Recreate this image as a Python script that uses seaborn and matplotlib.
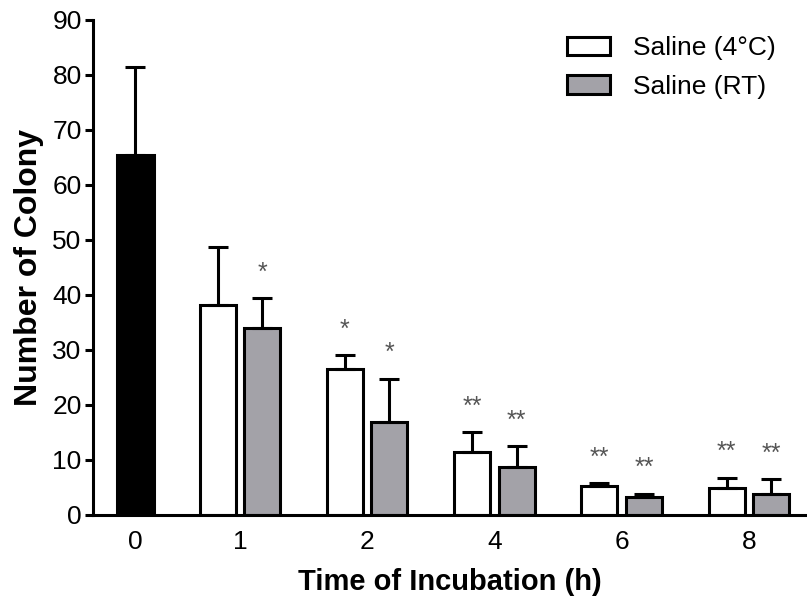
import pandas as pd
import matplotlib
matplotlib.use('Agg')
import matplotlib.pyplot as plt
import seaborn as sns

# data
times = ['0', '1', '2', '4', '6', '8']
control_mean = [65.5]
control_sd = [15.9]
cold_mean = [38.2, 26.6, 11.5, 5.2, 4.9]
cold_sd = [10.6, 2.4, 3.6, 0.6, 1.9]
rt_mean = [33.9, 16.9, 8.8, 3.2, 3.9]
rt_sd = [5.5, 7.9, 3.8, 0.7, 2.7]
cold_stars = ['', '*', '**', '**', '**']
rt_stars = ['*', '*', '**', '**', '**']
groups = ['Saline (4\u00b0C)', 'Saline (RT)']

df0 = pd.DataFrame({'time': times[:1], 'count': control_mean})
df = pd.DataFrame({
    'time': times[1:] * 2,
    'count': cold_mean + rt_mean,
    'group': [groups[0]] * 5 + [groups[1]] * 5,
})

sns.set_style('ticks', {'axes.edgecolor': 'black', 'text.color': 'black',
                        'xtick.color': 'black', 'ytick.color': 'black',
                        'axes.labelcolor': 'black'})
plt.rcParams['font.family'] = ['Liberation Sans', 'DejaVu Sans']

fig = plt.figure(figsize=(8.07, 6.03), dpi=100)
ax = fig.add_axes([0.115, 0.146, 0.885, 0.821])

sns.barplot(x='time', y='count', data=df0, order=times, color='black',
            saturation=1, width=0.29, edgecolor='black', linewidth=2.2,
            errorbar=None, ax=ax)
sns.barplot(x='time', y='count', data=df, order=times, hue='group',
            hue_order=groups, palette={groups[0]: 'white', groups[1]: '#a3a2a8'},
            saturation=1, width=0.70, gap=0.19, edgecolor='black', linewidth=2.2,
            errorbar=None, ax=ax)

# pull the lone control bar a bit towards group 1, like the original
GROUP0_SHIFT = 0.18
for p in ax.containers[0]:
    p.set_x(p.get_x() + GROUP0_SHIFT)

sds = [control_sd, cold_sd, rt_sd]
stars = [[''], cold_stars, rt_stars]
for cont, sd, st in zip(ax.containers[:3], sds, stars):
    xs = [p.get_x() + p.get_width() / 2 for p in cont]
    ys = [p.get_height() for p in cont]
    ax.errorbar(xs, ys, yerr=[[0] * len(sd), sd], fmt='none', ecolor='black',
                elinewidth=2.2, capsize=7, capthick=2.2, zorder=1)
    for x, y, e, s in zip(xs, ys, sd, st):
        if s:
            ax.text(x, y + e + 2.4, s, ha='center', va='bottom',
                    fontsize=18, color='#555555')

ax.set_ylim(0, 90)
ax.set_yticks(range(0, 91, 10))
ax.set_xlim(-0.155, 5.456)
ticks = list(ax.get_xticks())
ticks[0] += GROUP0_SHIFT
ax.set_xticks(ticks, times)

sns.despine(ax=ax)
for side in ['left', 'bottom']:
    ax.spines[side].set_linewidth(2.2)
ax.tick_params(axis='y', length=6, width=2.2, labelsize=19, pad=2)
ax.tick_params(axis='x', length=0, labelsize=19, pad=11)

ax.set_xlabel('Time of Incubation (h)', fontsize=21, fontweight='bold', labelpad=10)
ax.set_ylabel('Number of Colony', fontsize=23, fontweight='bold', labelpad=6)

handles, labels = ax.get_legend_handles_labels()
ax.legend(handles[-2:], labels[-2:], loc='upper right', bbox_to_anchor=(0.99, 1.015),
          frameon=False, fontsize=19, handlelength=1.6, handleheight=0.7,
          handletextpad=0.9, labelspacing=0.55, title=None)

plt.savefig('out.png', dpi=100)
